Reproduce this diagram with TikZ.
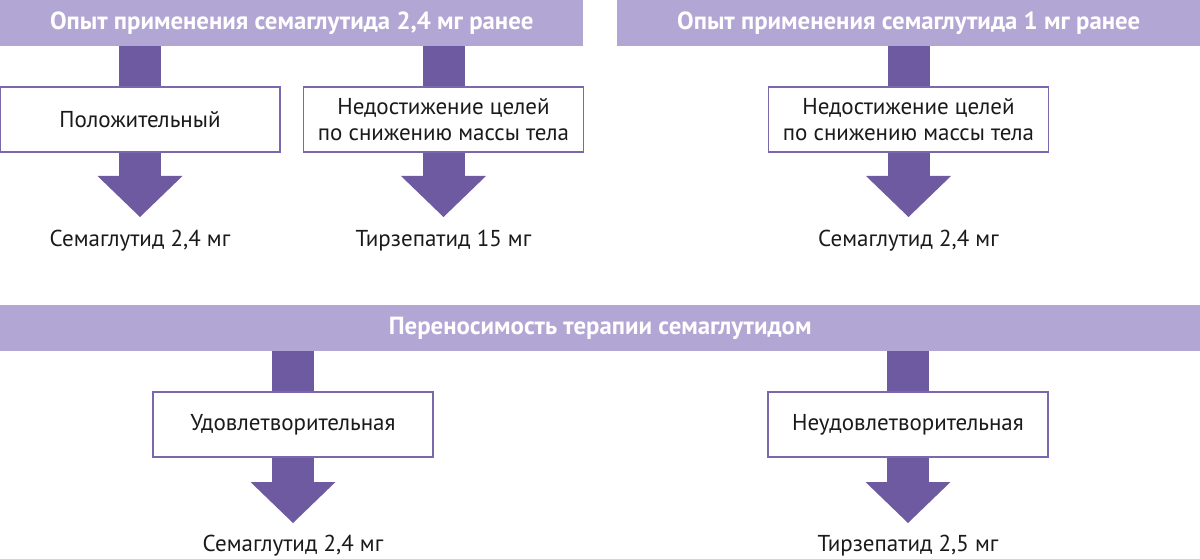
\documentclass[tikz,border=0pt]{standalone}
\usepackage{fontspec}
\setmainfont{PT Sans}
\usetikzlibrary{arrows.meta,backgrounds}
\definecolor{hdrc}{HTML}{B2A6D4}
\definecolor{dk}{HTML}{6E5AA0}
\definecolor{bd}{HTML}{7B68AC}
\definecolor{tx}{HTML}{1A1A1A}
\begin{document}
\begin{tikzpicture}[x=1pt,y=-1pt,
  hdr/.style={fill=hdrc, draw=none, inner sep=0pt, text=white,
    font=\bfseries\fontsize{24.8}{28}\selectfont, minimum height=46pt, anchor=north west},
  box/.style={draw=bd, line width=1.6pt, fill=white, minimum width=280pt,
    minimum height=65pt, inner sep=0pt, align=center, text=tx,
    font=\fontsize{23}{26}\selectfont},
  res/.style={text=tx, font=\fontsize{23}{26}\selectfont, inner sep=0pt},
  stem/.style={draw=dk, line width=42pt},
  arr/.style={draw=dk, line width=42pt, -{Triangle[length=41pt,width=85pt,line width=0pt]}}]
\useasboundingbox (0,0) rectangle (1200,559);
% headers
\node[hdr, minimum width=583pt] (h1) at (0,0) {Опыт применения семаглутида 2,4 мг ранее};
\node[hdr, minimum width=583pt] (h2) at (617,0) {Опыт применения семаглутида 1 мг ранее};
\node[hdr, minimum width=1200pt] (h3) at (0,305) {Переносимость терапии семаглутидом};
% boxes
\node[box] (b1) at (140,119.5) {Положительный};
\node[box] (b2) at (443.5,119.5) {Недостижение целей\\по снижению массы тела};
\node[box] (b3) at (908.5,119.5) {Недостижение целей\\по снижению массы тела};
\node[box] (b4) at (293,424.5) {Удовлетворительная};
\node[box] (b5) at (908,424.5) {Неудовлетворительная};
% results
\coordinate (t1) at (140,217);
\coordinate (t2) at (443.5,217);
\coordinate (t3) at (908.5,217);
\coordinate (t4) at (293,523);
\coordinate (t5) at (908,523);
\node[res] (r1) at (140,241) {Семаглутид 2,4 мг};
\node[res] (r2) at (443.5,241) {Тирзепатид 15 мг};
\node[res] (r3) at (908.5,241) {Семаглутид 2,4 мг};
\node[res] (r4) at (293,546) {Семаглутид 2,4 мг};
\node[res] (r5) at (908,546) {Тирзепатид 2,5 мг};
% connectors
\begin{scope}[on background layer]
\foreach \h/\b in {h1/b1,h1/b2,h2/b3,h3/b4,h3/b5}{
  \draw[stem] (\b.north |- \h.south) -- (\b.north);
}
\foreach \b/\t in {b1/t1,b2/t2,b3/t3,b4/t4,b5/t5}{
  \draw[arr] (\b.south) -- (\t);
}
\end{scope}
\end{tikzpicture}
\end{document}
